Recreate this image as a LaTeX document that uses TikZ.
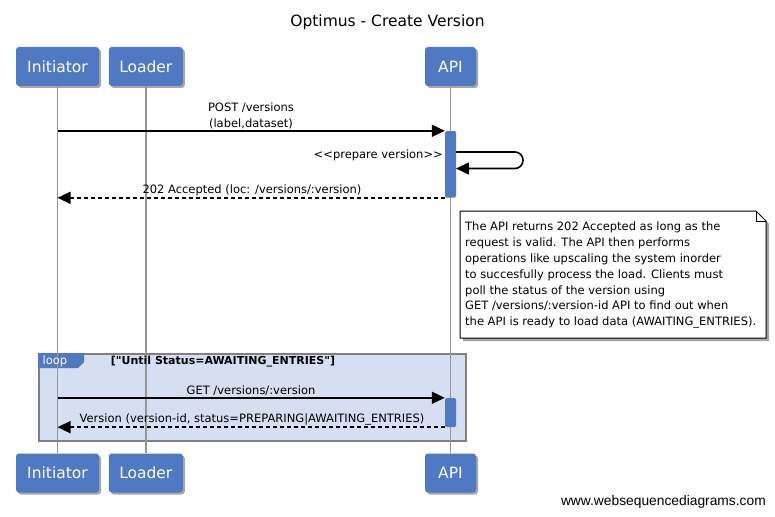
\documentclass[tikz,border=0pt]{standalone}
\usepackage{fontspec}
\setmainfont{DejaVu Sans}
\newfontfamily\wmfont{Liberation Sans}
\usetikzlibrary{arrows.meta,shadows}
\definecolor{boxblue}{RGB}{80,121,196}
\definecolor{loopblue}{RGB}{214,222,241}
\definecolor{lifegray}{RGB}{150,150,150}
\definecolor{framegray}{RGB}{128,128,128}
\begin{document}
\begin{tikzpicture}[x=1pt,y=-1pt,
  part/.style={rectangle, rounded corners=3pt, fill=boxblue, text=white,
    font=\fontsize{15.5}{18}\selectfont, minimum height=39pt, inner sep=0pt,
    drop shadow={shadow xshift=2pt,shadow yshift=-2pt,opacity=0.35,fill=black}},
  actbox/.style={rectangle, rounded corners=1.5pt, fill=boxblue, minimum width=11pt, inner sep=0pt},
  life/.style={draw=lifegray, line width=1.6pt},
  msg/.style={line width=1.6pt, -{Triangle[length=13pt,width=12pt]}},
  ret/.style={msg, dash pattern=on 4pt off 3pt},
  lbl/.style={font=\fontsize{11.5}{15.5}\selectfont, inner sep=1pt, align=center},
]
\useasboundingbox (0,0) rectangle (775,516);
\fill[white] (0,0) rectangle (775,516);

% title
\node[font=\fontsize{15.5}{19}\selectfont] (title) at (387.5,22) {Optimus - Create Version};

% loop frame
\node[draw=framegray, fill=loopblue, line width=1.5pt, anchor=north west,
  minimum width=427pt, minimum height=87pt, inner sep=0pt] (loop) at (38,353) {};
\fill[boxblue] (loop.north west) -- (84,353) -- (84,362) -- (78,368) -- (38,368) -- cycle;

% participants
\node[part, minimum width=83pt] (it) at (57.5,66.5) {Initiator};
\node[part, minimum width=74pt] (lt) at (145.8,66.5) {Loader};
\node[part, minimum width=51pt] (at) at (450.5,66.5) {API};
\node[part, minimum width=83pt] (ib) at (57.5,473) {Initiator};
\node[part, minimum width=74pt] (lb) at (145.8,473) {Loader};
\node[part, minimum width=51pt] (ab) at (450.5,473) {API};

% lifelines
\draw[life] (it.south) -- (ib.north);
\draw[life] (lt.south) -- (lb.north);
\draw[life] (at.south) -- (ab.north);

% loop labels
\node[text=white, font=\fontsize{11.5}{13}\selectfont, inner sep=0pt] (looplbl) at (55,361.5) {loop};
\node[font=\bfseries\fontsize{11}{13}\selectfont, inner sep=0pt] (cond) at (223,362) {[\textquotedbl Until Status=AWAITING\_ENTRIES\textquotedbl]};

% activations
\node[actbox, minimum height=66.6pt] (a1) at (450.5,164.3) {};
\node[actbox, minimum height=29pt] (a2) at (450.5,412.5) {};

% messages
\draw[msg] (it |- a1.north west) -- (a1.north west);
\node[lbl, anchor=south] (l1) at (251,130) {POST /versions\\(label,dataset)};

\coordinate (s1) at (456,152);
\coordinate (s3) at (523,152);
\coordinate (s4) at (523,168.5);
\coordinate (s2) at (456,168.5);
\draw[msg, rounded corners=8pt] (s1) -- (s3) -- (s4) -- (s2);
\node[lbl, anchor=south east] (l2) at (444,162) {{<}{<}prepare version{>}{>}};

\draw[ret] (a1.south west) -- (it |- a1.south west);
\node[lbl, anchor=south] (l3) at (252,197) {202 Accepted (loc: /versions/:version)};

\draw[msg] (it |- a2.north west) -- (a2.north west);
\node[lbl, anchor=south] (l4) at (251,397) {GET /versions/:version};
\draw[ret] (a2.south west) -- (it |- a2.south west);
\node[lbl, anchor=south] (l5) at (252,426) {Version (version-id, status=PREPARING|AWAITING\_ENTRIES)};

% note
\fill[black!35] (463,214) -- (759,214) -- (769,224) -- (769,341) -- (463,341) -- cycle;
\draw[fill=white, line width=1pt] (460,211) -- (756,211) -- (766,221) -- (766,338) -- (460,338) -- cycle;
\draw[line width=0.8pt] (756,211) -- (756,221) -- (766,221);
\node[anchor=north west, align=left, font=\fontsize{11.5}{15.8}\selectfont, inner sep=0pt] (note) at (465,222)
 {The API returns 202 Accepted as long as the\\
  request is valid. The API then performs\\
  operations like upscaling the system inorder\\
  to succesfully process the load. Clients must\\
  poll the status of the version using\\
  GET /versions/:version-id API to find out when\\
  the API is ready to load data (AWAITING\_ENTRIES).};

% watermark
\node[anchor=east, font=\wmfont\fontsize{13.8}{15}\selectfont, inner sep=0pt] (wm) at (766,502) {www.websequencediagrams.com};
\end{tikzpicture}
\end{document}
